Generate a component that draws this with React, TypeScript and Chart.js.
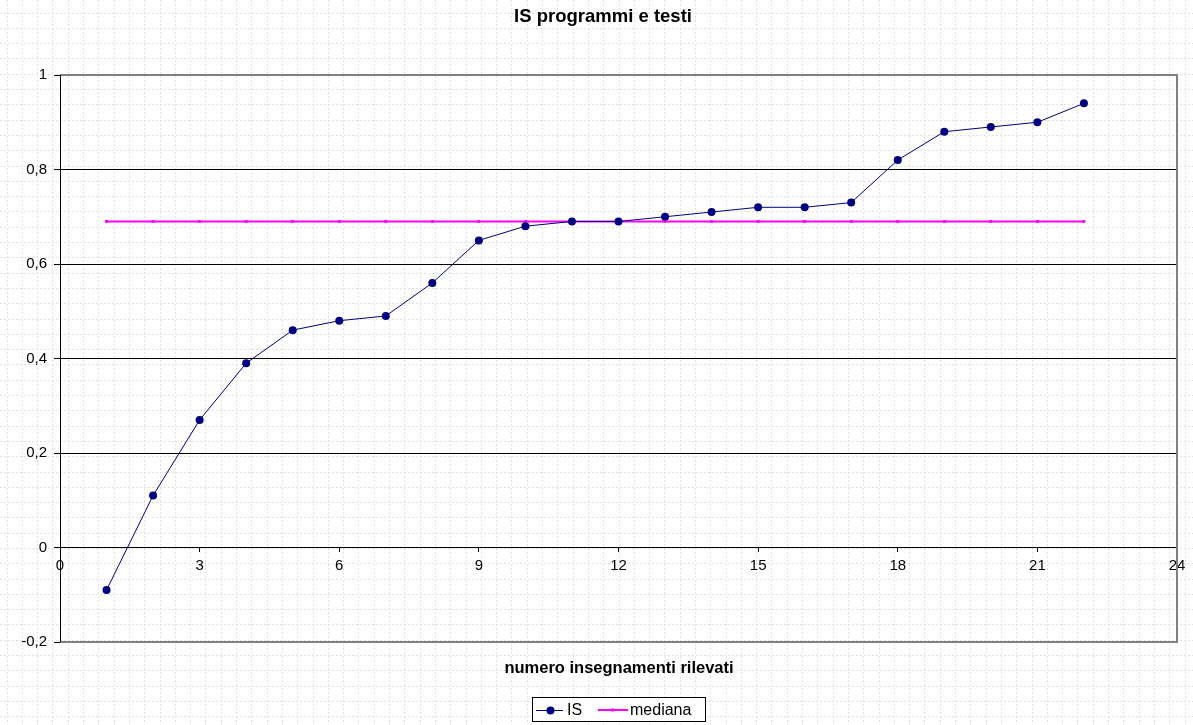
import React, { useEffect, useRef } from 'react';
import { Chart, registerables } from 'chart.js';

Chart.register(...registerables);

const chartTitle = 'IS programmi e testi';
const xAxisTitle = 'numero insegnamenti rilevati';
const xValues = [1, 2, 3, 4, 5, 6, 7, 8, 9, 10, 11, 12, 13, 14, 15, 16, 17, 18, 19, 20, 21, 22];
const isValues = [-0.09, 0.11, 0.27, 0.39, 0.46, 0.48, 0.49, 0.56, 0.65, 0.68, 0.69, 0.69, 0.7, 0.71, 0.72, 0.72, 0.73, 0.82, 0.88, 0.89, 0.9, 0.94];
const medianValues = [0.69, 0.69, 0.69, 0.69, 0.69, 0.69, 0.69, 0.69, 0.69, 0.69, 0.69, 0.69, 0.69, 0.69, 0.69, 0.69, 0.69, 0.69, 0.69, 0.69, 0.69, 0.69];
const xTickLabels = ['0', '3', '6', '9', '12', '15', '18', '21', '24'];
const yTickLabels = ['-0,2', '0', '0,2', '0,4', '0,6', '0,8', '1'];
const seriesNames = ['IS', 'mediana'];

const FONT = "'Liberation Sans', Arial, sans-serif";
const NAVY = '#000080';
const MAGENTA = '#FF00FF';

const decorPlugin = {
  id: 'decor',
  beforeDraw(chart: any) {
    const { ctx, width, height } = chart;
    ctx.save();
    ctx.fillStyle = '#ffffff';
    ctx.fillRect(0, 0, width, height);
    ctx.strokeStyle = '#e2e2e2';
    ctx.lineWidth = 1;
    ctx.setLineDash([2, 2]);
    for (let x = 6.5; x < width; x += 15.3) {
      const px = Math.round(x) + 0.5;
      ctx.beginPath();
      ctx.moveTo(px, 0);
      ctx.lineTo(px, height);
      ctx.stroke();
    }
    for (let y = 12.5; y < height; y += 15.3) {
      const py = Math.round(y) + 0.5;
      ctx.beginPath();
      ctx.moveTo(0, py);
      ctx.lineTo(width, py);
      ctx.stroke();
    }
    ctx.restore();
  },
  beforeDatasetsDraw(chart: any) {
    const { ctx, chartArea } = chart;
    const { left, right, top, bottom } = chartArea;
    ctx.save();
    ctx.strokeStyle = '#808080';
    ctx.lineWidth = 2;
    ctx.beginPath();
    ctx.moveTo(left, top);
    ctx.lineTo(right, top);
    ctx.lineTo(right, bottom);
    ctx.lineTo(left, bottom);
    ctx.stroke();
    ctx.strokeStyle = '#000000';
    ctx.lineWidth = 1;
    ctx.beginPath();
    ctx.moveTo(Math.round(left) + 0.5, top);
    ctx.lineTo(Math.round(left) + 0.5, bottom);
    ctx.stroke();
    ctx.restore();
  },
  afterDraw(chart: any) {
    const { ctx, width } = chart;
    ctx.save();
    ctx.fillStyle = '#000000';
    ctx.textAlign = 'center';
    ctx.textBaseline = 'middle';
    ctx.font = `bold 18.5px ${FONT}`;
    ctx.fillText(chartTitle, 603, 17);
    ctx.font = `bold 16.5px ${FONT}`;
    ctx.fillText(xAxisTitle, 619, 668);

    // legend box
    const bx = 532.5, by = 697.5, bw = 173, bh = 24;
    ctx.fillStyle = '#ffffff';
    ctx.fillRect(bx, by, bw, bh);
    ctx.strokeStyle = '#000000';
    ctx.lineWidth = 1;
    ctx.strokeRect(bx, by, bw, bh);
    const ly = 710;
    ctx.strokeStyle = NAVY;
    ctx.lineWidth = 1;
    ctx.beginPath();
    ctx.moveTo(536, ly + 0.5);
    ctx.lineTo(563, ly + 0.5);
    ctx.stroke();
    ctx.fillStyle = NAVY;
    ctx.beginPath();
    ctx.arc(550.5, ly + 0.5, 4, 0, Math.PI * 2);
    ctx.fill();
    ctx.strokeStyle = MAGENTA;
    ctx.lineWidth = 2;
    ctx.beginPath();
    ctx.moveTo(598, ly);
    ctx.lineTo(628, ly);
    ctx.stroke();
    ctx.fillStyle = MAGENTA;
    ctx.fillRect(611, ly - 1.5, 3, 3);
    ctx.fillStyle = '#000000';
    ctx.textAlign = 'left';
    ctx.font = `16px ${FONT}`;
    ctx.fillText(seriesNames[0], 567, ly + 1);
    ctx.fillText(seriesNames[1], 630, ly + 1);
    ctx.restore();
  },
};

export default function App() {
  const canvasRef = useRef<HTMLCanvasElement | null>(null);

  useEffect(() => {
    document.body.style.margin = '0';
    const canvas = canvasRef.current;
    if (!canvas) return;
    const chart = new Chart(canvas, {
      type: 'line',
      data: {
        datasets: [
          {
            label: seriesNames[0],
            data: xValues.map((x, i) => ({ x, y: isValues[i] })),
            borderColor: NAVY,
            backgroundColor: NAVY,
            borderWidth: 1,
            pointRadius: 4,
            pointHoverRadius: 4,
            pointBackgroundColor: NAVY,
            pointBorderColor: NAVY,
            pointBorderWidth: 0,
            tension: 0,
            order: 1,
          },
          {
            label: seriesNames[1],
            data: xValues.map((x, i) => ({ x, y: medianValues[i] })),
            borderColor: MAGENTA,
            backgroundColor: MAGENTA,
            borderWidth: 2,
            pointStyle: 'rect',
            pointRadius: 2,
            pointHoverRadius: 2,
            pointBackgroundColor: MAGENTA,
            pointBorderColor: MAGENTA,
            pointBorderWidth: 0,
            tension: 0,
            order: 2,
          },
        ],
      },
      options: {
        responsive: false,
        animation: false,
        events: [],
        layout: { padding: { top: 75, bottom: 83, left: 0, right: 16 } },
        plugins: {
          legend: { display: false },
          title: { display: false },
          tooltip: { enabled: false },
        },
        scales: {
          x: {
            type: 'linear',
            min: 0,
            max: 24,
            position: { y: 0 },
            ticks: {
              stepSize: 3,
              autoSkip: false,
              maxRotation: 0,
              color: '#000000',
              padding: 5,
              font: { family: FONT, size: 15 },
              callback: (_v: any, i: number) => xTickLabels[i],
            },
            grid: {
              drawOnChartArea: false,
              drawTicks: true,
              tickLength: 4,
              color: '#000000',
            },
            border: { display: true, color: '#000000', width: 1 },
          },
          y: {
            type: 'linear',
            min: -0.2,
            max: 1,
            ticks: {
              stepSize: 0.2,
              color: '#000000',
              padding: 7,
              font: { family: FONT, size: 15 },
              callback: (_v: any, i: number) => yTickLabels[i],
            },
            grid: {
              color: (c: any) => {
                const v = c.tick ? c.tick.value : 0;
                return Math.abs(v - 1) < 1e-6 || Math.abs(v + 0.2) < 1e-6 ? 'rgba(0,0,0,0)' : '#000000';
              },
              tickColor: '#000000',
              tickLength: 6,
              lineWidth: 1,
            },
            border: { display: false },
            afterFit: (s: any) => {
              s.width = 60;
            },
          },
        },
      },
      plugins: [decorPlugin],
    } as any);
    return () => chart.destroy();
  }, []);

  return (
    <div style={{ position: 'fixed', left: 0, top: 0, width: 1193, height: 725 }}>
      <canvas ref={canvasRef} width={1193} height={725} style={{ width: 1193, height: 725, display: 'block' }} />
    </div>
  );
}
